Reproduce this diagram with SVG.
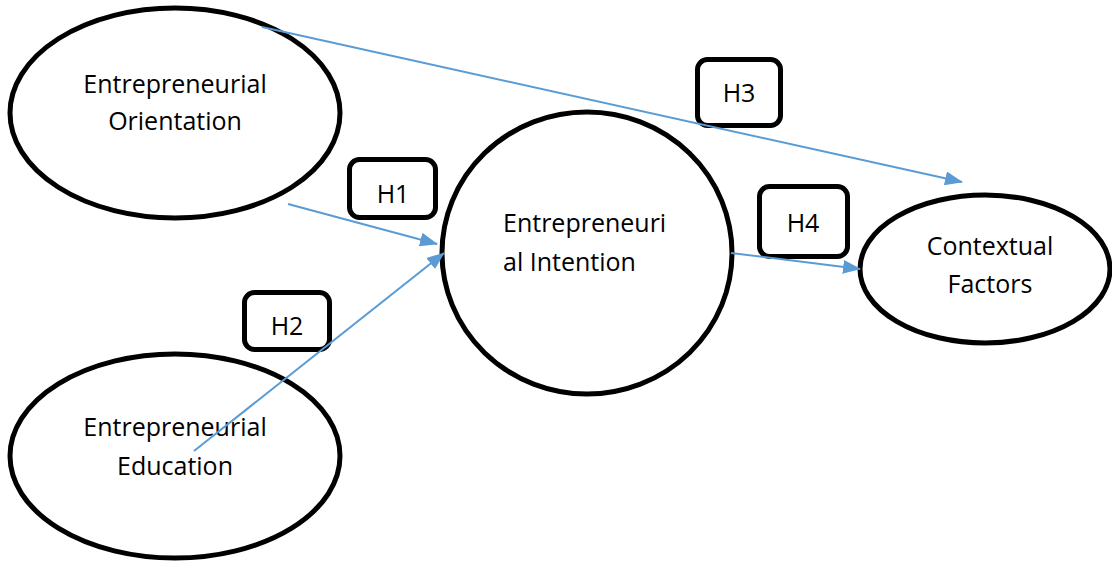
<svg xmlns="http://www.w3.org/2000/svg" width="1112" height="563" viewBox="0 0 1112 563">
<style>
.node{fill:#fff;stroke:#000;stroke-width:5}
.box{fill:#fff;stroke:#000;stroke-width:5}
.t{font-family:"Open Sans","Liberation Sans",sans-serif;font-size:25px;fill:#000}
.c{text-anchor:middle}
.conn{stroke:#5B9BD5;stroke-width:2;fill:none;marker-end:url(#ah)}
</style>
<defs>
<marker id="ah" markerUnits="userSpaceOnUse" markerWidth="18" markerHeight="14" refX="17" refY="7" orient="auto">
<path d="M0,0 L18,7 L0,14 z" fill="#5B9BD5"/>
</marker>
</defs>
<rect width="1112" height="563" fill="#fff"/>
<g id="orientation">
<ellipse class="node" cx="175" cy="113" rx="165" ry="105"/>
<text class="t c" x="175" y="93">Entrepreneurial</text>
<text class="t c" x="175" y="130">Orientation</text>
</g>
<g id="education">
<ellipse class="node" cx="175" cy="456" rx="165" ry="102"/>
<text class="t c" x="175" y="436">Entrepreneurial</text>
<text class="t c" x="175" y="475">Education</text>
</g>
<g id="intention">
<ellipse class="node" cx="587" cy="253" rx="145" ry="141"/>
<text class="t" x="503" y="232">Entrepreneuri</text>
<text class="t" x="503" y="271">al Intention</text>
</g>
<g id="contextual">
<ellipse class="node" cx="985" cy="269" rx="125" ry="74"/>
<text class="t c" x="990" y="255">Contextual</text>
<text class="t c" x="990" y="293">Factors</text>
</g>
<g id="h1">
<rect class="box" x="349.5" y="159.5" width="86" height="58" rx="10"/>
<text class="t c" x="393" y="203">H1</text>
</g>
<g id="h2">
<rect class="box" x="244.5" y="292.5" width="85" height="57" rx="10"/>
<text class="t c" x="287" y="335">H2</text>
</g>
<g id="h3">
<rect class="box" x="697.5" y="59.5" width="83" height="66" rx="10"/>
<text class="t c" x="739" y="102">H3</text>
</g>
<g id="h4">
<rect class="box" x="759.5" y="186.5" width="88" height="70" rx="10"/>
<text class="t c" x="803" y="232">H4</text>
</g>
<g id="connectors">
<line class="conn" x1="288" y1="204" x2="437" y2="244"/>
<line class="conn" x1="194" y1="451" x2="444" y2="253"/>
<line class="conn" x1="262" y1="27" x2="962" y2="182"/>
<line class="conn" x1="731" y1="253" x2="860" y2="269"/>
</g>
</svg>
